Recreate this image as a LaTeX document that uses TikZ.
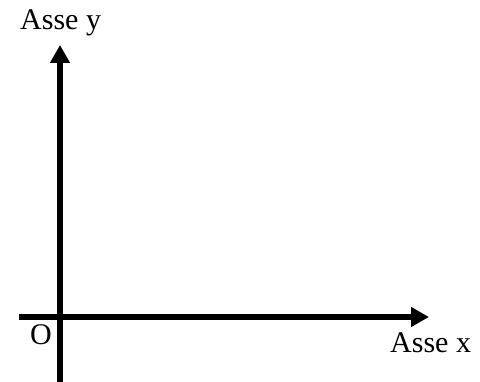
\documentclass[tikz,border=0pt]{standalone}
\usepackage{fontspec}
\setmainfont{Liberation Serif}
\usetikzlibrary{arrows.meta,positioning}
\tikzset{
axis/.style={line width=6pt,-{Triangle[length=18pt,width=19pt]}},
lbl/.style={font=\fontsize{30}{36}\selectfont,inner sep=0pt},
}
\begin{document}
\begin{tikzpicture}[x=1pt,y=1pt]
	\useasboundingbox (0,0) rectangle (480,382);

	\coordinate (ybot) at (60,0);
	\coordinate (ytop) at (60,337);
	\coordinate (xleft) at (19,65);
	\coordinate (xright) at (429,65);

	\node[lbl,anchor=base west] (ylabel) at (20,352) {Asse y};
	\node[lbl,anchor=base west] (xlabel) at (390,29) {Asse x};
	\node[lbl] (orig) at (41,47) {O};

	\draw[axis] (ybot) -- (ytop);
	\draw[axis] (xleft) -- (xright);
\end{tikzpicture}
\end{document}
